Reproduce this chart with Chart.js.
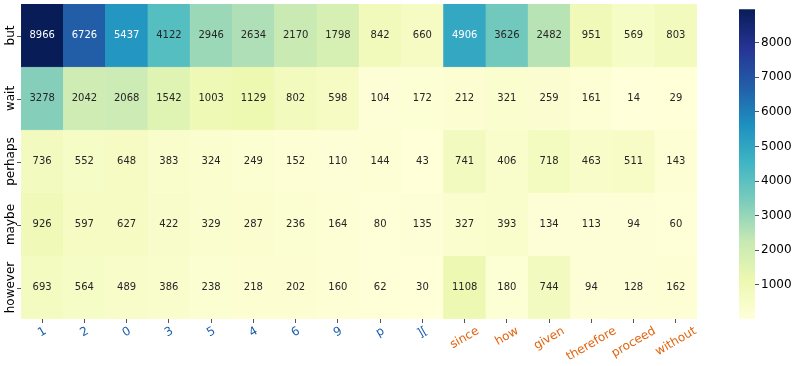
<!DOCTYPE html>
<html>
<head>
<meta charset="utf-8">
<script src="https://cdn.jsdelivr.net/npm/chart.js@4.4.1/dist/chart.umd.min.js"></script>
<style>
  body { margin: 0; background: #fff; }
  #wrap { position: relative; width: 793px; height: 366px; }
  #heat { position: absolute; left: 0; top: 0; }
  #cbar { position: absolute; left: 720px; top: 0; }
</style>
</head>
<body>
<div id="wrap">
  <canvas id="heat" width="720" height="366"></canvas>
  <canvas id="cbar" width="73" height="366"></canvas>
</div>
<script>
const columns = ['1','2','0','3','5','4','6','9','p','][','since','how','given','therefore','proceed','without'];
const rows = ['but','wait','perhaps','maybe','however'];

const but     = [8966,6726,5437,4122,2946,2634,2170,1798,842,660,4906,3626,2482,951,569,803];
const wait    = [3278,2042,2068,1542,1003,1129,802,598,104,172,212,321,259,161,14,29];
const perhaps = [736,552,648,383,324,249,152,110,144,43,741,406,718,463,511,143];
const maybe   = [926,597,627,422,329,287,236,164,80,135,327,393,134,113,94,60];
const however = [693,564,489,386,238,218,202,160,62,30,1108,180,744,94,128,162];
const values = [but, wait, perhaps, maybe, however];

const cbarTicks = [1000,2000,3000,4000,5000,6000,7000,8000];

// YlGnBu
const cmap = [
  [255,255,217],[237,248,177],[199,233,180],[127,205,187],[65,182,196],
  [29,145,192],[34,94,168],[37,52,148],[8,29,88]
];
const all = values.flat();
const vmin = Math.min(...all);
const vmax = Math.max(...all);

function rgbFor(v) {
  let t = (v - vmin) / (vmax - vmin);
  t = Math.max(0, Math.min(1, t)) * (cmap.length - 1);
  const i = Math.min(Math.floor(t), cmap.length - 2);
  const f = t - i;
  return cmap[i].map((c, k) => Math.round(c + (cmap[i + 1][k] - c) * f));
}
function colorFor(v) {
  const c = rgbFor(v);
  return 'rgb(' + c.join(',') + ')';
}
function textFor(v) {
  // same rule as seaborn: luminance of the cell
  const c = rgbFor(v).map(x => {
    x = x / 255;
    return x <= 0.03928 ? x / 12.92 : Math.pow((x + 0.055) / 1.055, 2.4);
  });
  const lum = 0.2126 * c[0] + 0.7152 * c[1] + 0.0722 * c[2];
  return lum > 0.408 ? '#262626' : '#ffffff';
}

const blue = '#1f5fae';
const orange = '#e2640f';

const cellText = {
  id: 'cellText',
  afterDatasetsDraw(chart) {
    const ctx = chart.ctx;
    ctx.save();
    ctx.font = '10px "DejaVu Sans"';
    ctx.textAlign = 'center';
    ctx.textBaseline = 'middle';
    chart.data.datasets.forEach((ds, r) => {
      chart.getDatasetMeta(r).data.forEach((el, c) => {
        const v = values[r][c];
        ctx.fillStyle = textFor(v);
        ctx.fillText(String(v), el.x, (el.y + el.base) / 2);
      });
    });
    ctx.restore();
  }
};

// row names (vertical) and rotated column names, centred on their ticks
const axisLabels = {
  id: 'axisLabels',
  afterDraw(chart) {
    const ctx = chart.ctx;
    const x = chart.scales.x;
    const y = chart.scales.y;
    const area = chart.chartArea;
    ctx.save();
    ctx.font = '12px "DejaVu Sans"';
    ctx.textAlign = 'center';
    ctx.textBaseline = 'middle';
    ctx.strokeStyle = '#555';
    ctx.lineWidth = 1;
    ctx.fillStyle = '#000';
    rows.forEach((name, i) => {
      const py = y.getPixelForValue(i + 0.5);
      ctx.beginPath();
      ctx.moveTo(area.left - 4, Math.round(py) + 0.5);
      ctx.lineTo(area.left, Math.round(py) + 0.5);
      ctx.stroke();
      ctx.save();
      ctx.translate(11, py);
      ctx.rotate(-Math.PI / 2);
      ctx.fillText(name, 0, 0);
      ctx.restore();
    });
    const a = Math.PI / 6;
    const h = 12;
    columns.forEach((name, i) => {
      const px = x.getPixelForTick(i);
      const w = ctx.measureText(name).width;
      const bh = w * Math.sin(a) + h * Math.cos(a);
      ctx.save();
      ctx.translate(px, area.bottom + 6 + bh / 2);
      ctx.rotate(-a);
      ctx.fillStyle = i < 10 ? blue : orange;
      ctx.fillText(name, 0, 0);
      ctx.restore();
    });
    ctx.restore();
  }
};

new Chart(document.getElementById('heat'), {
  type: 'bar',
  data: {
    labels: columns,
    datasets: rows.map((name, r) => ({
      label: name,
      data: columns.map(() => 1),
      backgroundColor: values[r].map(colorFor),
      borderColor: values[r].map(colorFor),
      borderWidth: 0.5,
      barPercentage: 1,
      categoryPercentage: 1
    }))
  },
  options: {
    responsive: false,
    animation: false,
    devicePixelRatio: 1,
    layout: { padding: { left: 21, top: 4, right: 23, bottom: 0 } },
    plugins: { legend: { display: false }, tooltip: { enabled: false } },
    scales: {
      x: {
        stacked: true,
        offset: true,
        border: { display: false },
        grid: { drawOnChartArea: false, offset: false, tickLength: 4, color: '#555' },
        ticks: { display: false, autoSkip: false },
        afterFit: (s) => { s.height = 47; }
      },
      y: {
        stacked: true,
        display: false,
        reverse: true,
        min: 0,
        max: 5
      }
    }
  },
  plugins: [cellText, axisLabels]
});

new Chart(document.getElementById('cbar'), {
  type: 'bar',
  data: {
    labels: [''],
    datasets: [{
      data: [[vmin, vmax]],
      barPercentage: 1,
      categoryPercentage: 1,
      borderWidth: 0,
      backgroundColor: (c) => {
        const area = c.chart.chartArea;
        if (!area) return null;
        const g = c.chart.ctx.createLinearGradient(0, area.bottom, 0, area.top);
        cmap.forEach((col, i) => g.addColorStop(i / (cmap.length - 1), 'rgb(' + col.join(',') + ')'));
        return g;
      }
    }]
  },
  options: {
    responsive: false,
    animation: false,
    devicePixelRatio: 1,
    layout: { padding: { left: 19, top: 5, right: 0, bottom: 47 } },
    plugins: { legend: { display: false }, tooltip: { enabled: false } },
    scales: {
      x: { display: false },
      y: {
        position: 'right',
        min: vmin,
        max: vmax,
        border: { display: false },
        grid: { drawOnChartArea: false, tickLength: 4, color: '#555' },
        ticks: {
          padding: 2,
          color: '#000',
          font: { family: 'DejaVu Sans', size: 12 },
          callback: (v) => String(v)
        },
        afterBuildTicks: (s) => { s.ticks = cbarTicks.map(v => ({ value: v })); },
        afterFit: (s) => { s.width = 38; }
      }
    }
  }
});
</script>
</body>
</html>
